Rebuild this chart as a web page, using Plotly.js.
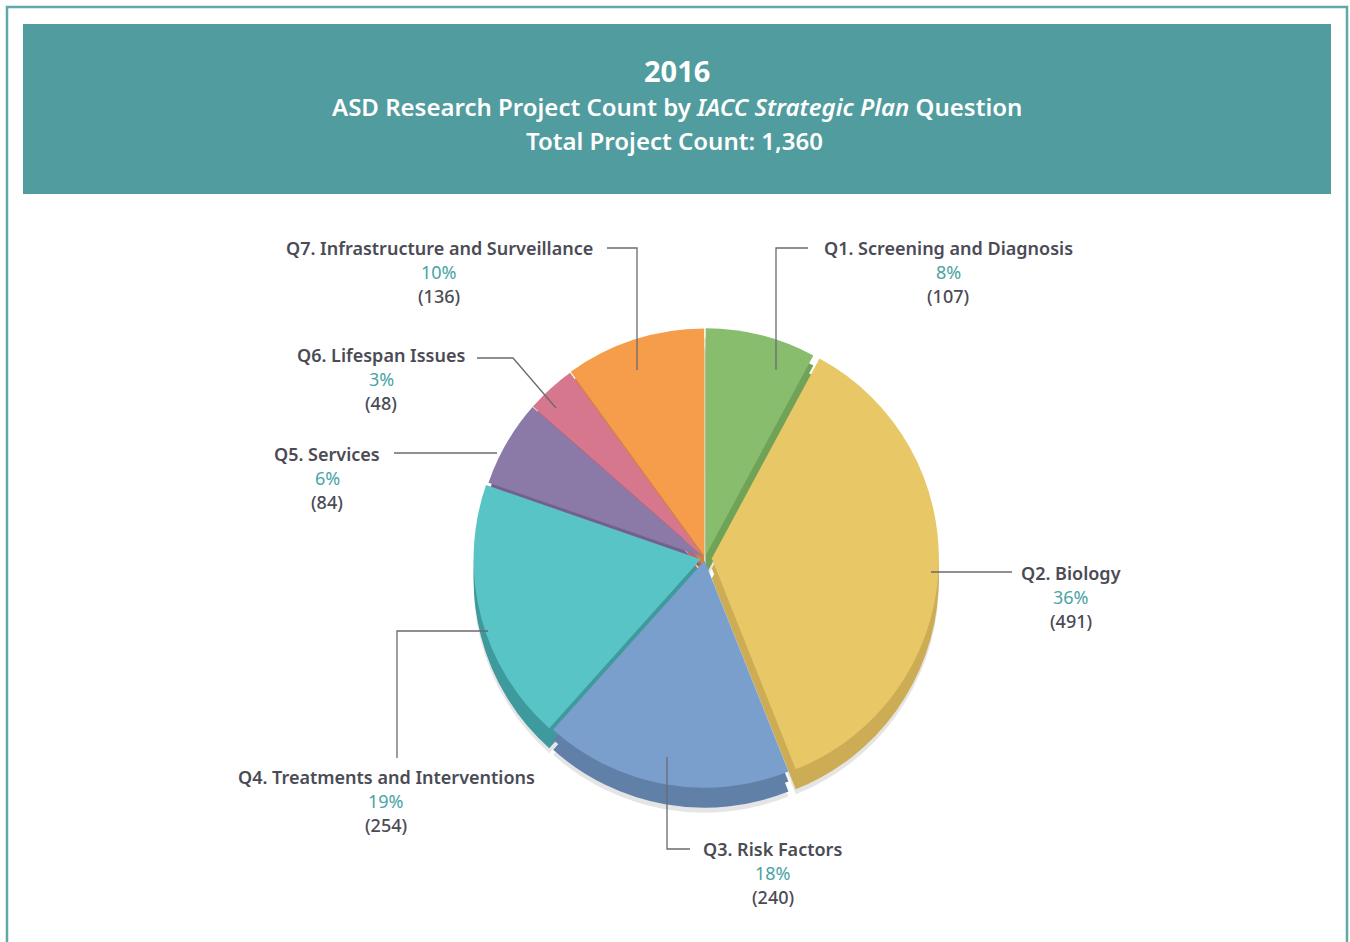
<!DOCTYPE html>
<html>
<head>
<meta charset="utf-8">
<script src="https://cdn.plot.ly/plotly-3.0.1.min.js"></script>
<style>
html,body{margin:0;padding:0;background:#fff;}
#chart{width:1350px;height:942px;}
</style>
</head>
<body>
<div id="chart"></div>
<script>
// ---- data ----
var categories = ["Q1. Screening and Diagnosis","Q2. Biology","Q3. Risk Factors","Q4. Treatments and Interventions","Q5. Services","Q6. Lifespan Issues","Q7. Infrastructure and Surveillance"];
var values = [107, 491, 240, 254, 84, 48, 136];
var pctLabels = ["8%","36%","18%","19%","6%","3%","10%"];
var countLabels = ["(107)","(491)","(240)","(254)","(84)","(48)","(136)"];
var titleYear = "2016";
var titleMain = "ASD Research Project Count by <i>IACC Strategic Plan</i> Question";
var titleTotal = "Total Project Count: 1,360";

// ---- styles ----
var topColors  = ["#88BD6E","#E8C766","#7B9FCD","#58C4C6","#8B7AA8","#D6778E","#F69D4B"];
var sideColors = ["#70A358","#CCAD55","#6080A8","#3E9A9C","#726190","#B9627A","#D3843C"];
var pulls = [0.012,0.03,0.012,0.02,0.01,0.01,0.012];

var W = 1350, H = 942;
function px(x){return x/W;}
function py(y){return 1 - y/H;}

var cx = 705, cy = 558, r = 227, depth = 20;
var maxPull = Math.max.apply(null, pulls);
var half = r*(1+maxPull);
function dom(dy){
  return {x:[px(cx-half), px(cx+half)], y:[py(cy+dy+half), py(cy+dy-half)]};
}

var base = {type:'pie', values:values, labels:categories, sort:false, direction:'clockwise',
  rotation:0, textinfo:'none', hoverinfo:'label+value+percent', showlegend:false, pull:pulls};

var shadow = Object.assign({}, base, {domain:dom(depth+5), marker:{colors:values.map(function(){return 'rgba(0,0,0,0.10)';})}, hoverinfo:'skip'});
var side = Object.assign({}, base, {domain:dom(depth), marker:{colors:sideColors}, hoverinfo:'skip'});
var sideMid = Object.assign({}, base, {domain:dom(depth/2), marker:{colors:sideColors}, hoverinfo:'skip'});
var top_ = Object.assign({}, base, {domain:dom(0), marker:{colors:topColors}});

// label layout (pixel positions)
var labelPos = [
  {x:948, y:248}, {x:1071, y:573}, {x:773, y:849}, {x:386, y:777},
  {x:327, y:454}, {x:381, y:355}, {x:439, y:248}
];
var leaders = [
  [[776,370],[776,248],[808,248]],
  [[931,572],[1012,572]],
  [[667,757],[667,849],[690,849]],
  [[488,631],[397,631],[397,758]],
  [[394,453],[497,453]],
  [[477,358],[513,358],[556,408]],
  [[607,248],[637,248],[637,370]]
];

var FONT = "'Noto Sans', Roboto, sans-serif";
var textGray = "#4B4B55", teal = "#4AA3A4", band = "#519C9E";

var annotations = [];
categories.forEach(function(c,i){
  var p = labelPos[i];
  annotations.push({xref:'paper',yref:'paper',x:px(p.x),y:py(p.y),text:c,showarrow:false,xanchor:'center',yanchor:'middle',
    font:{family:FONT,size:18,color:textGray,weight:600}});
  annotations.push({xref:'paper',yref:'paper',x:px(p.x),y:py(p.y+24),text:pctLabels[i],showarrow:false,xanchor:'center',yanchor:'middle',
    font:{family:FONT,size:18,color:teal,weight:400}});
  annotations.push({xref:'paper',yref:'paper',x:px(p.x),y:py(p.y+48),text:countLabels[i],showarrow:false,xanchor:'center',yanchor:'middle',
    font:{family:FONT,size:18,color:textGray,weight:500}});
});
annotations.push({xref:'paper',yref:'paper',x:px(677),y:py(71),text:titleYear,showarrow:false,xanchor:'center',yanchor:'middle',
  font:{family:FONT,size:29,color:'#fff',weight:700}});
annotations.push({xref:'paper',yref:'paper',x:px(677),y:py(107),text:titleMain,showarrow:false,xanchor:'center',yanchor:'middle',
  font:{family:FONT,size:24,color:'#fff',weight:600}});
annotations.push({xref:'paper',yref:'paper',x:px(674),y:py(141),text:titleTotal,showarrow:false,xanchor:'center',yanchor:'middle',
  font:{family:FONT,size:24,color:'#fff',weight:600}});

var shapes = [
  {type:'rect',xref:'paper',yref:'paper',x0:px(7),x1:px(1347),y0:py(7),y1:py(950),line:{color:'#5EA9A9',width:2.5},fillcolor:'rgba(0,0,0,0)',layer:'below'},
  {type:'rect',xref:'paper',yref:'paper',x0:px(23),x1:px(1331),y0:py(24),y1:py(194),line:{width:0},fillcolor:band,layer:'below'}
];
leaders.forEach(function(pts){
  var d = pts.map(function(q,k){return (k?'L':'M')+px(q[0])+','+py(q[1]);}).join(' ');
  shapes.push({type:'path',xref:'paper',yref:'paper',path:d,line:{color:'#6A6A70',width:1.3},layer:'above'});
});

Plotly.newPlot('chart',[shadow, side, sideMid, top_],{
  width:W,height:H,margin:{l:0,r:0,t:0,b:0},paper_bgcolor:'#fff',
  annotations:annotations,shapes:shapes,showlegend:false
},{displayModeBar:false,staticPlot:false});
</script>
</body>
</html>
